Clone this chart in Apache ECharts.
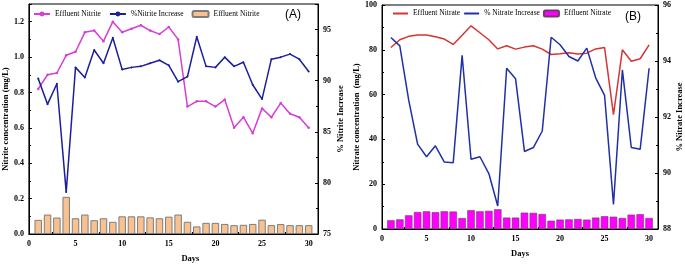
<!DOCTYPE html>
<html>
<head>
<meta charset="utf-8">
<script src="https://cdn.jsdelivr.net/npm/echarts@6/dist/echarts.min.js"></script>
<style>
  html, body { margin: 0; padding: 0; background: #fff; }
  #chart { width: 685px; height: 268px; }
</style>
</head>
<body>
<div id="chart"></div>
<script>
// days of the run
var days = [1,2,3,4,5,6,7,8,9,10,11,12,13,14,15,16,17,18,19,20,21,22,23,24,25,26,27,28,29,30];

// panel A - nitrite
var effluentNitriteLine = [0.82,0.90,0.91,1.01,1.03,1.14,1.15,1.09,1.20,1.14,1.16,1.18,1.15,1.13,1.17,1.10,0.72,0.75,0.75,0.72,0.76,0.60,0.66,0.57,0.71,0.66,0.74,0.68,0.66,0.60];
var nitriteIncrease = [90.2,87.7,89.7,79.1,91.3,90.3,93.0,91.7,94.2,91.1,91.3,91.4,91.7,92.0,91.5,89.9,90.4,94.3,91.4,91.3,92.3,91.4,91.8,89.6,88.2,92.1,92.3,92.6,92.1,90.9];
var influentNitrite = [0.08,0.11,0.093,0.21,0.089,0.11,0.078,0.089,0.069,0.10,0.10,0.10,0.094,0.089,0.098,0.11,0.069,0.043,0.063,0.063,0.057,0.05,0.052,0.057,0.081,0.05,0.056,0.05,0.05,0.05];

// panel B - nitrate
var effluentNitrateLine = [81.0,84.5,86.0,86.6,86.6,85.8,84.8,82.4,86.5,90.7,87.6,84.5,80.4,81.8,80.3,81.2,81.8,80.3,77.9,78.2,78.7,78.1,78.5,80.4,81.0,51.0,80.0,74.9,76.0,82.2];
var nitrateIncrease = [94.84,94.54,92.6,91.03,90.58,90.97,90.39,90.37,94.2,90.49,90.58,89.98,88.82,93.74,93.37,90.77,90.91,91.5,94.85,94.58,94.16,94.0,94.46,93.4,92.77,88.88,93.68,90.91,90.85,93.74];
var influentNitrate = [3.9,4.3,6.1,7.6,7.9,7.5,7.9,7.8,4.9,8.4,7.9,8.1,8.8,5.1,5.1,7.3,7.2,6.7,3.7,4.2,4.3,4.5,4.2,5.1,5.7,5.5,4.9,6.4,6.6,4.9];

function pairs(arr) {
    return days.map(function (d, i) { return [d, arr[i]]; });
}

var serif = 'Liberation Serif';
var labelStyle = { color: '#000', fontFamily: serif, fontWeight: 'bold', fontSize: 8 };
var nameStyle = { color: '#000', fontFamily: serif, fontWeight: 'bold', fontSize: 8.5 };

function xAx(gridIndex, daysPad) {
    return {
        type: 'value', gridIndex: gridIndex, min: 0, max: 31, interval: 5,
        name: 'Days', nameLocation: 'middle', nameGap: 20,
        nameTextStyle: Object.assign({ padding: [0, 0, 0, daysPad] }, nameStyle),
        axisLine: { show: true, lineStyle: { color: '#000', width: 1 } },
        axisTick: { inside: true, length: 3, lineStyle: { color: '#000' } },
        minorTick: { show: true, splitNumber: 2, length: 2, lineStyle: { color: '#000' } },
        axisLabel: Object.assign({ margin: 6, formatter: function (v) { return v % 5 === 0 ? v : ''; } }, labelStyle),
        splitLine: { show: false }
    };
}

function yAx(gridIndex, pos, min, max, interval, name, gap, showMax, fmt) {
    return {
        type: 'value', gridIndex: gridIndex, position: pos, min: min, max: max, interval: interval,
        name: name, nameLocation: 'middle', nameGap: gap, nameRotate: 90,
        nameTextStyle: nameStyle,
        axisLine: { show: true, lineStyle: { color: '#000', width: 1 } },
        axisTick: { inside: true, length: 3, lineStyle: { color: '#000' } },
        minorTick: { show: true, splitNumber: 2, length: 2, lineStyle: { color: '#000' } },
        axisLabel: Object.assign({ margin: 5, showMaxLabel: showMax, formatter: fmt }, labelStyle),
        splitLine: { show: false }
    };
}

var mychart = echarts.init(document.getElementById('chart'), null, { renderer: 'canvas' });
mychart.setOption({
    animation: false,
    backgroundColor: '#fff',
    grid: [
        { left: 28, top: 4, width: 290, height: 232, show: true, borderColor: '#000', borderWidth: 1 },
        { left: 382, top: 5, width: 278, height: 224, show: true, borderColor: '#000', borderWidth: 1 }
    ],
    xAxis: [xAx(0, 34), xAx(1, 0)],
    yAxis: [
        yAx(0, 'left', 0, 1.3, 0.2, 'Nitrite concentration (mg/L)', 17, false, function (v) { return v.toFixed(1); }),
        yAx(0, 'right', 75, 97.5, 5, '% Nitrite Increase', 18, false),
        yAx(1, 'left', 0, 100, 20, 'Nitrate concentration  (mg/L)', 19, true),
        yAx(1, 'right', 88, 96, 2, '% Nitrate Increase', 17, true)
    ],
    legend: [
        {
            left: 33, top: 10, padding: 0, itemWidth: 16, itemHeight: 6, itemGap: 8,
            textStyle: { color: '#000', fontFamily: serif, fontSize: 7.5 },
            data: ['Effluent Nitrite', '%Nitrite Increase', 'Effluent Nitrite ']
        },
        {
            left: 392, top: 9.5, padding: 0, itemWidth: 15, itemHeight: 6, itemGap: 3,
            textStyle: { color: '#000', fontFamily: serif, fontSize: 7.5 },
            data: [
                { name: 'Effluent Nitrate', itemStyle: { opacity: 0 } },
                { name: '% Nitrate Increase', itemStyle: { opacity: 0 } },
                'Effluent Nitrate '
            ]
        }
    ],
    graphic: [
        { type: 'text', left: 285, top: 9, style: { text: '(A)', font: '12px "Liberation Sans"', fill: '#000' } },
        { type: 'text', left: 625, top: 11, style: { text: '(B)', font: '12px "Liberation Sans"', fill: '#000' } }
    ],
    series: [
        {
            name: 'Effluent Nitrite ', type: 'bar', xAxisIndex: 0, yAxisIndex: 0, barWidth: 7.5,
            itemStyle: { color: '#f9c18f', borderColor: '#7d7d7d', borderWidth: 1 },
            data: pairs(influentNitrite)
        },
        {
            name: 'Effluent Nitrite', type: 'line', xAxisIndex: 0, yAxisIndex: 0,
            symbol: 'circle', symbolSize: 2.5, z: 3,
            lineStyle: { color: '#d63ed6', width: 1.5 }, itemStyle: { color: '#d63ed6' },
            data: pairs(effluentNitriteLine)
        },
        {
            name: '%Nitrite Increase', type: 'line', xAxisIndex: 0, yAxisIndex: 1,
            symbol: 'circle', symbolSize: 2, z: 3,
            lineStyle: { color: '#1c1f9c', width: 1.5 }, itemStyle: { color: '#1c1f9c' },
            data: pairs(nitriteIncrease)
        },
        {
            name: 'Effluent Nitrate ', type: 'bar', xAxisIndex: 1, yAxisIndex: 2, barWidth: 7.5,
            itemStyle: { color: '#ff00ff', borderColor: '#6d3a6d', borderWidth: 0.6 },
            data: pairs(influentNitrate)
        },
        {
            name: 'Effluent Nitrate', type: 'line', xAxisIndex: 1, yAxisIndex: 2,
            symbol: 'none', z: 3,
            lineStyle: { color: '#d43434', width: 1.5 }, itemStyle: { color: '#d43434' },
            data: pairs(effluentNitrateLine)
        },
        {
            name: '% Nitrate Increase', type: 'line', xAxisIndex: 1, yAxisIndex: 3,
            symbol: 'none', z: 3,
            lineStyle: { color: '#2030a6', width: 1.5 }, itemStyle: { color: '#2030a6' },
            data: pairs(nitrateIncrease)
        }
    ]
});
</script>
</body>
</html>
